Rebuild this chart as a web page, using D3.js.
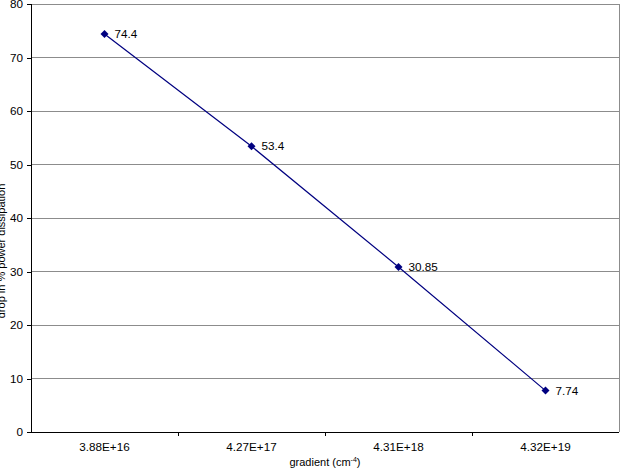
<!DOCTYPE html>
<html>
<head>
<meta charset="utf-8">
<script src="https://cdn.jsdelivr.net/npm/d3@7"></script>
<style>
  body { margin: 0; background: #fff; }
  svg { display: block; font-family: "Liberation Sans", Arial, sans-serif; }
</style>
</head>
<body>
<div id="chart"></div>
<script>
// categories (gradient, cm^-4) and series values
const categories = ["3.88E+16", "4.27E+17", "4.31E+18", "4.32E+19"];
const dropValues = [74.4, 53.4, 30.85, 7.74];
const valueLabels = ["74.4", "53.4", "30.85", "7.74"];
const yTicks = [0, 10, 20, 30, 40, 50, 60, 70, 80];

const width = 625;
const height = 472;
const marginTop = 4;
const marginRight = 6;
const marginBottom = 40;
const marginLeft = 31;
const fontSize = 11.7;

const svg = d3.select("#chart")
    .append("svg")
    .attr("width", width)
    .attr("height", height);

const x = d3.scaleBand()
    .domain(categories)
    .range([marginLeft, width - marginRight]);

const y = d3.scaleLinear()
    .domain([0, 80])
    .range([height - marginBottom, marginTop]);

// gridlines
svg.append("g")
    .selectAll("line")
    .data(yTicks.filter(d => d > 0))
    .join("line")
    .attr("x1", marginLeft)
    .attr("x2", width - marginRight)
    .attr("y1", d => y(d))
    .attr("y2", d => y(d))
    .attr("stroke", "#8c8c8c")
    .attr("stroke-width", 1)
    .attr("shape-rendering", "crispEdges");

// right border of plot area
svg.append("line")
    .attr("x1", width - marginRight)
    .attr("x2", width - marginRight)
    .attr("y1", marginTop)
    .attr("y2", height - marginBottom)
    .attr("stroke", "#8c8c8c")
    .attr("shape-rendering", "crispEdges");

// y axis
const yAxis = svg.append("g")
    .attr("transform", `translate(${marginLeft},0)`)
    .call(d3.axisLeft(y).tickValues(yTicks).tickSize(4).tickPadding(4).tickFormat(d3.format("d")));
yAxis.selectAll("text").attr("font-size", fontSize).attr("fill", "#000").attr("font-family", "Liberation Sans, Arial, sans-serif");
yAxis.selectAll("line, path").attr("stroke", "#000").attr("shape-rendering", "crispEdges");

// x axis: line + ticks at category boundaries
const xAxisG = svg.append("g")
    .attr("transform", `translate(0,${height - marginBottom})`);
xAxisG.append("line")
    .attr("x1", marginLeft)
    .attr("x2", width - marginRight)
    .attr("stroke", "#000")
    .attr("shape-rendering", "crispEdges");
xAxisG.selectAll(".tick-mark")
    .data(categories.slice(1))
    .join("line")
    .attr("class", "tick-mark")
    .attr("x1", d => x(d))
    .attr("x2", d => x(d))
    .attr("y1", 0)
    .attr("y2", 4)
    .attr("stroke", "#000")
    .attr("shape-rendering", "crispEdges");
xAxisG.selectAll("text")
    .data(categories)
    .join("text")
    .attr("x", d => x(d) + x.bandwidth() / 2)
    .attr("y", 19)
    .attr("text-anchor", "middle")
    .attr("font-size", fontSize)
    .attr("fill", "#000")
    .text(d => d);

// line
const line = d3.line()
    .x((d, i) => x(categories[i]) + x.bandwidth() / 2)
    .y(d => y(d));

svg.append("path")
    .datum(dropValues)
    .attr("fill", "none")
    .attr("stroke", "#000080")
    .attr("stroke-width", 1.2)
    .attr("d", line);

// diamond markers
svg.append("g")
    .selectAll("path")
    .data(dropValues)
    .join("path")
    .attr("transform", (d, i) => `translate(${x(categories[i]) + x.bandwidth() / 2},${y(d)})`)
    .attr("d", "M0,-4L4,0L0,4L-4,0Z")
    .attr("fill", "#000080");

// data labels
svg.append("g")
    .selectAll("text")
    .data(dropValues)
    .join("text")
    .attr("x", (d, i) => x(categories[i]) + x.bandwidth() / 2 + 10)
    .attr("y", d => y(d))
    .attr("dy", "0.35em")
    .attr("font-size", fontSize)
    .attr("fill", "#000")
    .text((d, i) => valueLabels[i]);

// axis titles
const xTitle = svg.append("text")
    .attr("x", (marginLeft + width - marginRight) / 2)
    .attr("y", 466)
    .attr("text-anchor", "middle")
    .attr("font-size", 11)
    .attr("fill", "#000");
xTitle.append("tspan").text("gradient (cm");
xTitle.append("tspan").attr("font-size", 7).attr("dy", -4).text("-4");
xTitle.append("tspan").attr("dy", 4).text(")");

svg.append("text")
    .attr("transform", "translate(5,251) rotate(-90)")
    .attr("text-anchor", "middle")
    .attr("font-size", 11)
    .attr("fill", "#000")
    .text("drop in % power dissipation");
</script>
</body>
</html>
